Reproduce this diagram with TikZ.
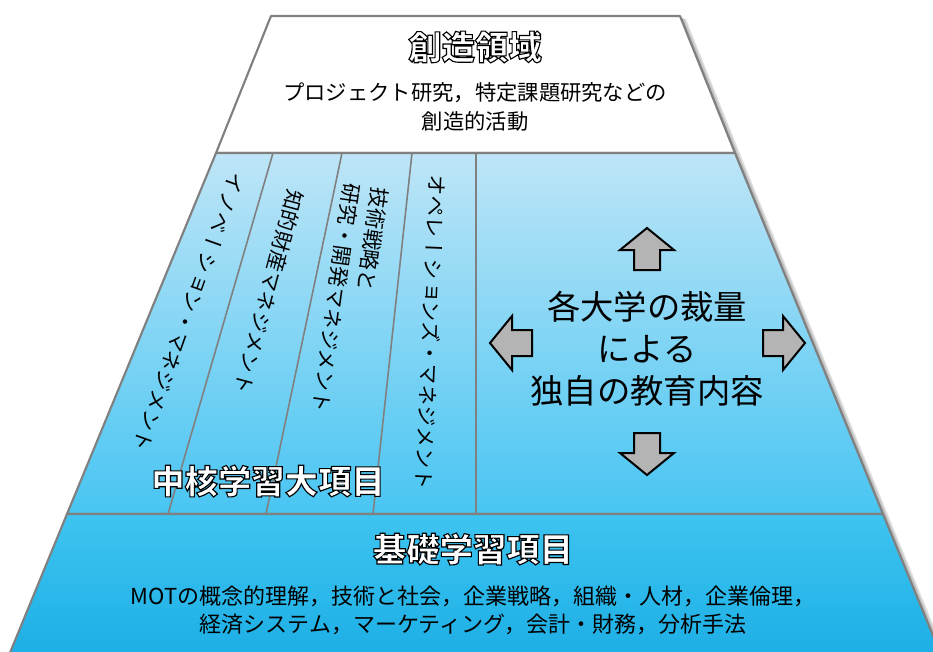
\documentclass[tikz,border=0pt]{standalone}
\usepackage{fontspec}
\setmainfont{Noto Sans CJK JP}
\newfontfamily\tatefont[Vertical=RotatedGlyphs]{Noto Sans CJK JP}
\usetikzlibrary{positioning}

\newcommand\outlined[1]{\special{pdf:code q 2 Tr 0.85 w 0 G}#1\special{pdf:code Q}}

\begin{document}
\begin{tikzpicture}[x=0.75pt,y=-0.75pt]

		    \definecolor{edgecolor}{RGB}{128,128,128}
		    \definecolor{coretop}{RGB}{190,229,247}
		    \definecolor{corebot}{RGB}{72,197,242}
		    \definecolor{basetop}{RGB}{62,196,240}
		    \definecolor{basebot}{RGB}{28,174,229}
		    \definecolor{arrowfill}{RGB}{180,180,180}
		    \tikzset{layer/.style={draw=edgecolor,line width=1.6pt,line join=round},
		             divider/.style={draw=edgecolor,line width=1.2pt},
		             title/.style={text=white,font=\bfseries\fontsize{25}{30}\selectfont,inner sep=0pt},
		             coltext/.style={font=\tatefont\fontsize{15.75}{21}\selectfont,inner sep=0pt,align=left},
		             blockarrow/.style={draw=black,fill=arrowfill,line width=1.5pt,line join=miter}}

		    \useasboundingbox (0,0) rectangle (933,651);
		    \clip (0,0) rectangle (933,651);

% 		    shadow
		    \foreach \s in {2,4,6}
		        \fill[black,opacity=0.12,shift={(\s,\s/2)}] (271,16) -- (680,16) -- (735,153) -- (883,514) -- (943,660) -- (7,660) -- cycle;

		    \path[layer,fill=white] (271,16) -- (680,16) -- (735,153) -- (216,153) -- cycle;
		    \path[layer,top color=coretop,bottom color=corebot] (216,153) -- (735,153) -- (883,514) -- (67,514) -- cycle;
		    \path[layer,top color=basetop,bottom color=basebot] (67,514) -- (883,514) -- (943,660) -- (7,660) -- cycle;

		    \draw[divider] (273,153) -- (168,514);
		    \draw[divider] (342,153) -- (266,514);
		    \draw[divider] (412,153) -- (373,514);
		    \draw[divider] (476,153) -- (476,514);

		    \node(title1) [title] at (475,47) {\outlined{創造領域}};
		    \node(sozo) [below=14pt of title1,align=center,font=\fontsize{16}{21.75}\selectfont,inner sep=0pt] {プロジェクト研究，特定課題研究などの\\創造的活動};

		    \node(col1) [coltext,rotate=-109.6] at (189,312) {イノベーション・マネジメント};
		    \node(col2) [coltext,rotate=-105] at (269,292) {知的財産マネジメント};
		    \node(col3) [coltext,rotate=-98] at (350,300) {技術戦略と\\研究・開発マネジメント};
		    \node(col4) [coltext,rotate=-92.4] at (431,332) {オペレーションズ・マネジメント};

		    \node(title2) [title] at (268,481) {\outlined{中核学習大項目}};

		    \node(dokuji) [align=center,font=\fontsize{25}{31.5}\selectfont,inner sep=0pt] at (647,349) {各大学の裁量\\による\\独自の教育内容};

		    \foreach \x/\y/\dir in {647/270/90, 647/433/270, 532/343/180, 763/343/0}
		        \draw[blockarrow,shift={(\x,\y)},rotate=\dir] (0,-13) -- (20,-13) -- (20,-27) -- (42,0) -- (20,27) -- (20,13) -- (0,13) -- cycle;

		    \node(title3) [title] at (473,549) {\outlined{基礎学習項目}};
		    \node(kiso) [below=15.5pt of title3,align=center,font=\fontsize{16.5}{21}\selectfont,inner sep=0pt] {MOTの概念的理解，技術と社会，企業戦略，組織・人材，企業倫理，\\経済システム，マーケティング，会計・財務，分析手法};

\end{tikzpicture}
\end{document}
